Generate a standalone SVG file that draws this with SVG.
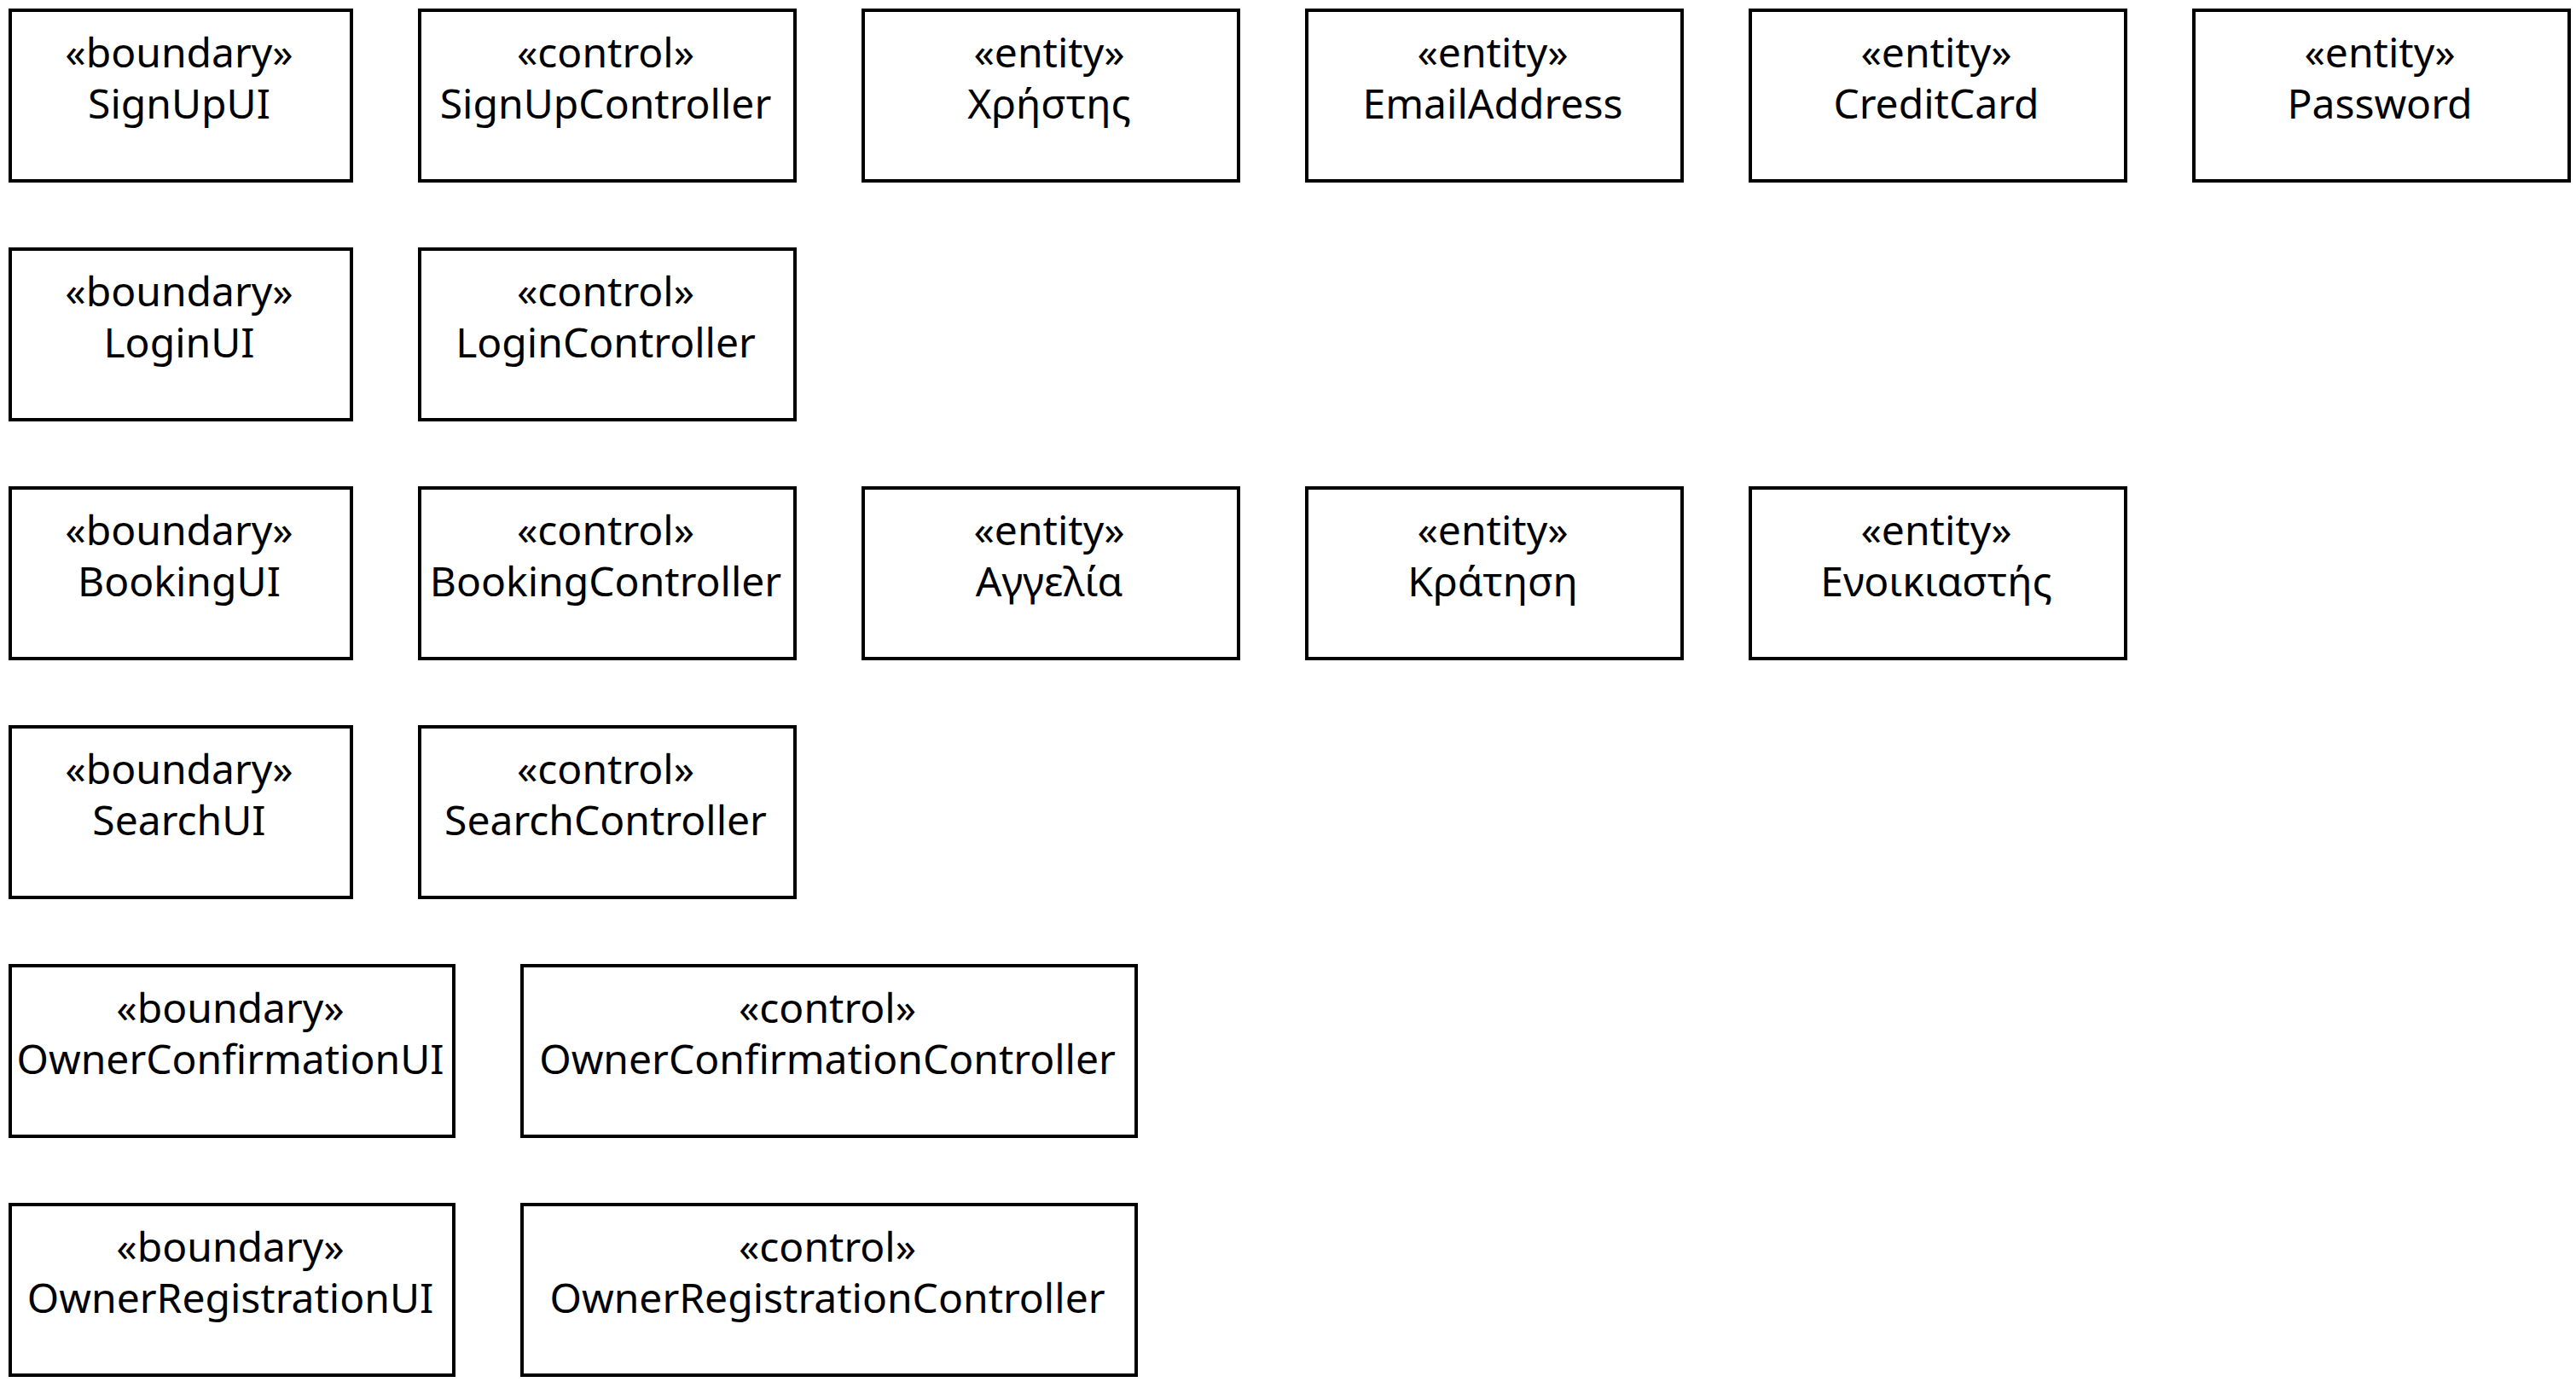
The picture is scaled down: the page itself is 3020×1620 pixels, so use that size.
<svg xmlns="http://www.w3.org/2000/svg" width="3020" height="1620" viewBox="0 0 3020 1620">
<style>
.box{fill:#fff;stroke:#000;stroke-width:4}
.t{font-family:"Noto Sans","Open Sans","DejaVu Sans",sans-serif;font-size:48px;fill:#000;text-anchor:middle}
</style>
<rect width="3020" height="1620" fill="#fff"/>
<g id="SignUpUI"><rect class="box" x="12" y="12" width="400" height="200"/><text class="t" x="210" y="79">«boundary»</text><text class="t" x="210" y="139">SignUpUI</text></g>
<g id="SignUpController"><rect class="box" x="492" y="12" width="440" height="200"/><text class="t" x="710" y="79">«control»</text><text class="t" x="710" y="139">SignUpController</text></g>
<g id="Xristis"><rect class="box" x="1012" y="12" width="440" height="200"/><text class="t" x="1230" y="79">«entity»</text><text class="t" x="1230" y="139">Χρήστης</text></g>
<g id="EmailAddress"><rect class="box" x="1532" y="12" width="440" height="200"/><text class="t" x="1750" y="79">«entity»</text><text class="t" x="1750" y="139">EmailAddress</text></g>
<g id="CreditCard"><rect class="box" x="2052" y="12" width="440" height="200"/><text class="t" x="2270" y="79">«entity»</text><text class="t" x="2270" y="139">CreditCard</text></g>
<g id="Password"><rect class="box" x="2572" y="12" width="440" height="200"/><text class="t" x="2790" y="79">«entity»</text><text class="t" x="2790" y="139">Password</text></g>

<g id="LoginUI"><rect class="box" x="12" y="292" width="400" height="200"/><text class="t" x="210" y="359">«boundary»</text><text class="t" x="210" y="419">LoginUI</text></g>
<g id="LoginController"><rect class="box" x="492" y="292" width="440" height="200"/><text class="t" x="710" y="359">«control»</text><text class="t" x="710" y="419">LoginController</text></g>

<g id="BookingUI"><rect class="box" x="12" y="572" width="400" height="200"/><text class="t" x="210" y="639">«boundary»</text><text class="t" x="210" y="699">BookingUI</text></g>
<g id="BookingController"><rect class="box" x="492" y="572" width="440" height="200"/><text class="t" x="710" y="639">«control»</text><text class="t" x="710" y="699">BookingController</text></g>
<g id="Aggelia"><rect class="box" x="1012" y="572" width="440" height="200"/><text class="t" x="1230" y="639">«entity»</text><text class="t" x="1230" y="699">Αγγελία</text></g>
<g id="Kratisi"><rect class="box" x="1532" y="572" width="440" height="200"/><text class="t" x="1750" y="639">«entity»</text><text class="t" x="1750" y="699">Κράτηση</text></g>
<g id="Enoikiastis"><rect class="box" x="2052" y="572" width="440" height="200"/><text class="t" x="2270" y="639">«entity»</text><text class="t" x="2270" y="699">Ενοικιαστής</text></g>

<g id="SearchUI"><rect class="box" x="12" y="852" width="400" height="200"/><text class="t" x="210" y="919">«boundary»</text><text class="t" x="210" y="979">SearchUI</text></g>
<g id="SearchController"><rect class="box" x="492" y="852" width="440" height="200"/><text class="t" x="710" y="919">«control»</text><text class="t" x="710" y="979">SearchController</text></g>

<g id="OwnerConfirmationUI"><rect class="box" x="12" y="1132" width="520" height="200"/><text class="t" x="270" y="1199">«boundary»</text><text class="t" x="270" y="1259">OwnerConfirmationUI</text></g>
<g id="OwnerConfirmationController"><rect class="box" x="612" y="1132" width="720" height="200"/><text class="t" x="970" y="1199">«control»</text><text class="t" x="970" y="1259">OwnerConfirmationController</text></g>

<g id="OwnerRegistrationUI"><rect class="box" x="12" y="1412" width="520" height="200"/><text class="t" x="270" y="1479">«boundary»</text><text class="t" x="270" y="1539">OwnerRegistrationUI</text></g>
<g id="OwnerRegistrationController"><rect class="box" x="612" y="1412" width="720" height="200"/><text class="t" x="970" y="1479">«control»</text><text class="t" x="970" y="1539">OwnerRegistrationController</text></g>

<g id="connectors"></g>
</svg>
